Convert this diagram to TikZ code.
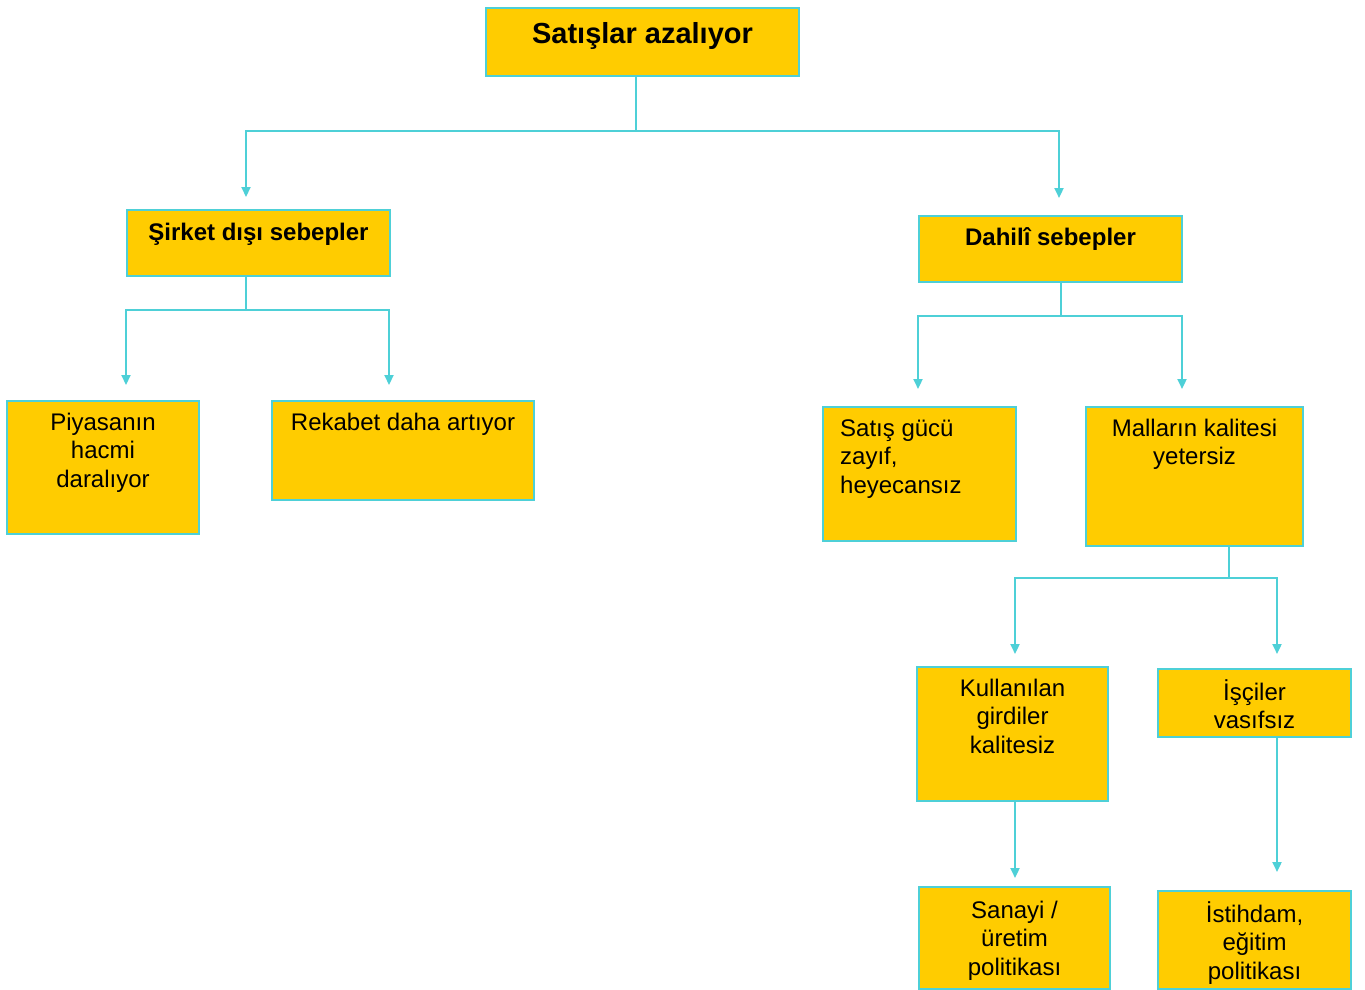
\documentclass[tikz,border=0pt]{standalone}
\usepackage{fontspec}
\setmainfont{Liberation Sans}
\usetikzlibrary{arrows.meta}
\definecolor{boxfill}{HTML}{FFCC00}
\definecolor{edge}{RGB}{78,208,215}
\tikzset{
  box/.style={draw=edge, fill=boxfill, line width=2pt, inner sep=0pt, anchor=north west},
  txt/.style={inner sep=0pt, align=center, anchor=north, font=\fontsize{24}{28.5}\selectfont},
  btxt/.style={inner sep=0pt, align=center, anchor=north, font=\fontsize{24}{28.5}\selectfont\bfseries},
  conn/.style={draw=edge, line width=2.2pt},
  arr/.style={draw=edge, line width=2.2pt, -{Triangle[width=9pt,length=10pt]}}
}
\begin{document}
\begin{tikzpicture}[x=1pt,y=-1pt]
\useasboundingbox (0,0) rectangle (1365,990);
% boxes
\node[box, minimum width=313, minimum height=68] (top) at (485,7) {};
\node[box, minimum width=263, minimum height=66] (sir) at (126,209) {};
\node[box, minimum width=263, minimum height=66] (dah) at (918,215) {};
\node[box, minimum width=192, minimum height=133] (pia) at (6,400) {};
\node[box, minimum width=262, minimum height=99] (rek) at (271,400) {};
\node[box, minimum width=193, minimum height=134] (sat) at (822,406) {};
\node[box, minimum width=217, minimum height=139] (mal) at (1085,406) {};
\node[box, minimum width=191, minimum height=134] (kul) at (916,666) {};
\node[box, minimum width=193, minimum height=68] (isc) at (1157,668) {};
\node[box, minimum width=191, minimum height=102] (san) at (918,886) {};
\node[box, minimum width=193, minimum height=98] (ist) at (1157,890) {};
% texts
\node[btxt, font=\fontsize{29}{34.8}\selectfont\bfseries] (ttop) at ([yshift=-12]top.north) {\strut Satışlar azalıyor};
\node[btxt] (tsir) at ([yshift=-11]sir.north) {\strut Şirket dışı sebepler};
\node[btxt] (tdah) at ([yshift=-10]dah.north) {\strut Dahilî sebepler};
\node[txt] (tpia) at ([yshift=-10]pia.north) {\strut Piyasanın\\hacmi\\daralıyor};
\node[txt] (trek) at ([yshift=-10]rek.north) {\strut Rekabet daha artıyor};
\node[txt, align=left, anchor=north west] (tsat) at ([xshift=18,yshift=-10]sat.north west) {\strut Satış gücü\\zayıf,\\heyecansız};
\node[txt] (tmal) at ([yshift=-10]mal.north) {\strut Malların kalitesi\\yetersiz};
\node[txt] (tkul) at ([yshift=-10]kul.north) {\strut Kullanılan\\girdiler\\kalitesiz};
\node[txt] (tisc) at ([yshift=-11]isc.north) {\strut İşçiler\\vasıfsız};
\node[txt] (tsan) at ([yshift=-12]san.north) {\strut Sanayi /\\üretim\\politikası};
\node[txt] (tist) at ([yshift=-11]ist.north) {\strut İstihdam,\\eğitim\\politikası};
% junctions and arrow ends
\coordinate (j1) at (636,131);
\coordinate (e1) at (246,197);
\coordinate (e2) at (1059,198);
\coordinate (j2) at (246,310);
\coordinate (e3) at (126,385);
\coordinate (e4) at (389,385);
\coordinate (j3) at (1061,316);
\coordinate (e5) at (918,389);
\coordinate (e6) at (1182,389);
\coordinate (j4) at (1229,578);
\coordinate (e7) at (1015,654);
\coordinate (e8) at (1277,654);
\coordinate (e9) at (1015,878);
\coordinate (e10) at (1277,872);
% connectors
\draw[conn] (top.south -| j1) -- (j1);
\draw[arr] (j1) -| (e1);
\draw[arr] (j1) -| (e2);
\draw[conn] (sir.south -| j2) -- (j2);
\draw[arr] (j2) -| (e3);
\draw[arr] (j2) -| (e4);
\draw[conn] (dah.south -| j3) -- (j3);
\draw[arr] (j3) -| (e5);
\draw[arr] (j3) -| (e6);
\draw[conn] (mal.south -| j4) -- (j4);
\draw[arr] (j4) -| (e7);
\draw[arr] (j4) -| (e8);
\draw[arr] (kul.south -| e9) -- (e9);
\draw[arr] (isc.south -| e10) -- (e10);
\end{tikzpicture}
\end{document}
